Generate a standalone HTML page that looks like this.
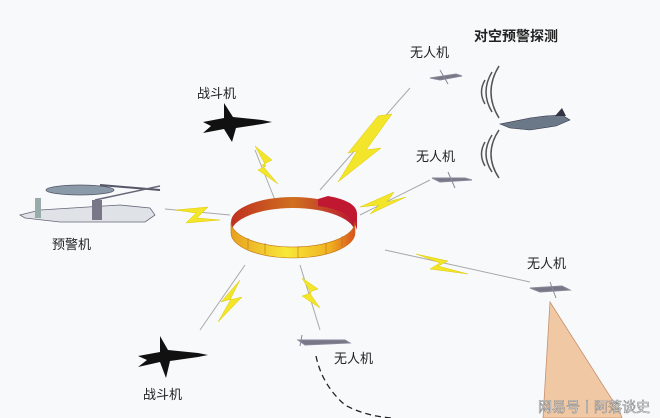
<!DOCTYPE html>
<html><head><meta charset="utf-8"><style>
html,body{margin:0;padding:0;background:#f7f9fb;}
svg{display:block}
text{font-family:"Liberation Sans","Noto Sans CJK SC",sans-serif;}
</style></head><body>
<svg width="660" height="418" viewBox="0 0 660 418" xmlns="http://www.w3.org/2000/svg">
<defs>
<linearGradient id="band" x1="0" x2="1" y1="0" y2="0">
<stop offset="0" stop-color="#e8a020"/><stop offset="0.45" stop-color="#f8e838"/><stop offset="0.8" stop-color="#f0b020"/><stop offset="1" stop-color="#d85020"/>
</linearGradient>
<linearGradient id="back" x1="0" x2="1"><stop offset="0" stop-color="#c03020"/><stop offset="0.5" stop-color="#d07020"/><stop offset="1" stop-color="#b81830"/></linearGradient>
</defs>
<rect width="660" height="418" fill="#f7f9fb"/>
<g stroke="#a8a8a8" stroke-width="1" fill="none">
<line x1="255" y1="150" x2="275" y2="200"/>
<line x1="165" y1="209" x2="230" y2="215"/>
<line x1="200" y1="330" x2="245" y2="265"/>
<line x1="300" y1="265" x2="320" y2="330"/>
<line x1="320" y1="190" x2="410" y2="88"/>
<line x1="360" y1="215" x2="430" y2="180"/>
<line x1="385" y1="250" x2="530" y2="282"/>
</g>
<g fill="#f2e52a" stroke="#e0c800" stroke-width="0.5">
<polygon points="255,146 272,160 262,165 278,184 258,170 266,166"/>
<polygon points="176,210 208,207 197,218 220,220 186,223 196,213"/>
<polygon points="240,280 230,300 242,297 218,322 231,299 221,302"/>
<polygon points="302,278 318,289 309,292 320,308 302,296 311,293"/>
<polygon points="378,116 392,114 366,150 381,148 338,182 357,151 348,153"/>
<polygon points="360,207 394,192 387,202 406,197 370,214 379,205"/>
<polygon points="416,254 448,261 438,266 468,274 430,269 440,263"/>
</g>
<!-- ring: back half -->
<path d="M231,222 A62,25 0 0 1 355,222 L355,233 A62,25 0 0 0 231,233 Z" fill="url(#back)"/>
<path d="M318,199 L328,196 Q356,201 357,213 L357,230 Q352,210 318,206 Z" fill="#c01830"/>
<!-- front half -->
<path d="M231,222 L231,233 A62,25 0 0 0 355,233 L355,222 A62,25 0 0 1 231,222 Z" fill="url(#band)" stroke="#c07010" stroke-width="0.6"/>
<g stroke="#b06010" stroke-width="0.5"><line x1="265" y1="243" x2="265" y2="254"/><line x1="326" y1="243" x2="326" y2="254"/><line x1="248" y1="238" x2="248" y2="249"/><line x1="298" y1="247" x2="298" y2="258"/><line x1="342" y1="236" x2="342" y2="247"/></g>
<g fill="#111">
<path d="M203,122 L224,118 L224,103 L233,117 L262,120 L272,122 L262,124 L236,128 L232,142 L224,129 L203,133 L211,126 Z"/>
<path d="M138,356 L160,352 L160,336 L168,350 L198,353 L208,355 L198,357 L170,361 L166,378 L160,362 L138,367 L147,360 Z"/>
</g>
<g>
<ellipse cx="80" cy="190" rx="34" ry="5" fill="#8a9aa8" stroke="#556" stroke-width="0.8"/>
<path d="M20,215 L40,210 L120,205 L150,208 L155,215 L145,222 L60,222 L25,218 Z" fill="#dfe3e8" stroke="#667" stroke-width="0.8"/>
<line x1="100" y1="185" x2="160" y2="190" stroke="#556" stroke-width="2"/>
<line x1="95" y1="200" x2="160" y2="186" stroke="#667" stroke-width="1.5"/>
<rect x="35" y="198" width="6" height="20" fill="#9aa"/>
<rect x="92" y="200" width="10" height="20" fill="#778"/>
</g>
<g fill="#778" stroke="#889" stroke-width="1">
<path d="M430,78 L456,74 L462,76 L440,80 Z"/><line x1="440" y1="70" x2="448" y2="84"/>
<path d="M432,178 L465,178 L472,180 L440,182 Z"/><line x1="448" y1="172" x2="455" y2="188"/>
<path d="M530,288 L562,286 L570,290 L540,292 Z"/><line x1="550" y1="282" x2="556" y2="298"/>
<path d="M298,340 L345,340 L350,343 L305,345 Z"/><line x1="302" y1="335" x2="300" y2="346"/>
</g>
<path d="M500,124 L530,118 L545,116 L562,115 L570,120 L556,126 L530,130 L510,128 Z" fill="#6a7888" stroke="#334" stroke-width="0.6"/>
<path d="M555,116 L562,108 L566,116 Z" fill="#334"/>
<g fill="none" stroke="#555" stroke-width="1.5">
<path d="M485,80 Q478,92 485,104"/><path d="M492,72 Q480,92 492,112"/><path d="M499,66 Q483,92 499,118"/>
<path d="M485,142 Q478,154 485,166"/><path d="M492,135 Q480,154 492,172"/><path d="M499,130 Q483,154 499,178"/>
</g>
<polygon points="550,302 620,412 622,418 543,418" fill="#f0c8a4" stroke="#c89070" stroke-width="0.8"/>
<path d="M316,356 Q322,385 345,405 Q365,416 392,418" fill="none" stroke="#222" stroke-width="1.3" stroke-dasharray="6,4"/>
<g font-size="13" fill="#222">
<text x="197" y="98">战斗机</text>
<text x="52" y="249">预警机</text>
<text x="143" y="399">战斗机</text>
<text x="410" y="57">无人机</text>
<text x="416" y="161">无人机</text>
<text x="527" y="268">无人机</text>
<text x="334" y="363">无人机</text>
</g>
<text x="474" y="41" font-size="14" font-weight="bold" fill="#222">对空预警探测</text>
<text x="538" y="412" font-size="14" fill="#fff" stroke="#888" stroke-width="0.6">网易号丨阿落谈史</text>
</svg>
</body></html>
